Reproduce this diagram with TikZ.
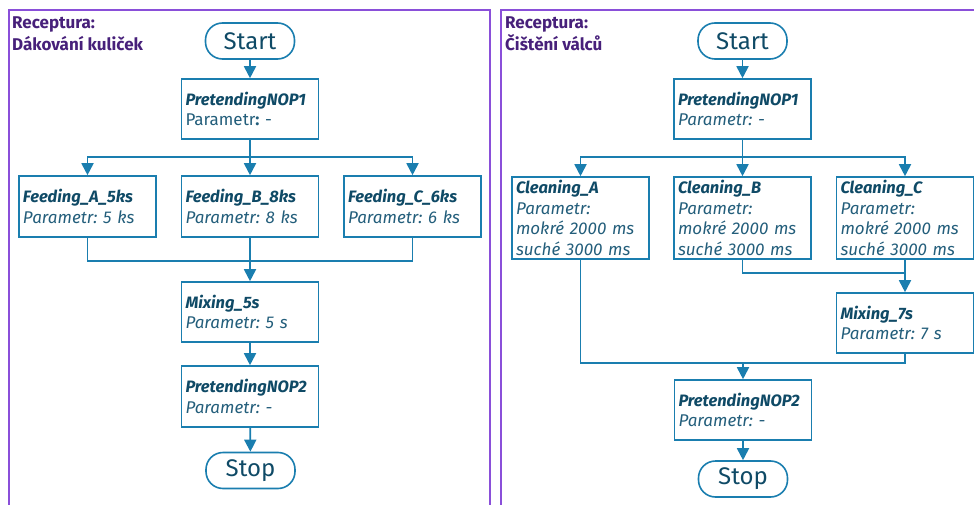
\documentclass[tikz,border=0pt]{standalone}
\usepackage{fontspec}
\setmainfont{Fira Sans}
\frenchspacing
\usetikzlibrary{arrows.meta}
\definecolor{framec}{HTML}{8A4FD9}
\definecolor{titlec}{HTML}{47207A}
\definecolor{linec}{HTML}{1A7EAF}
\definecolor{namec}{HTML}{0F4A66}
\definecolor{parc}{HTML}{235E7B}
\tikzset{
  frame/.style={draw=framec, line width=2pt},
  title/.style={anchor=north west, align=left, text=titlec, inner sep=0pt,
    font=\fontsize{17}{21.5}\selectfont\bfseries},
  stepbox/.style={draw=linec, line width=1.6pt, fill=white, text=parc, align=left,
    inner xsep=4pt, inner ysep=0pt, text width=129pt, minimum height=60pt,
    font=\fontsize{17}{20.5}\selectfont},
  terminal/.style={draw=linec, line width=1.6pt, rounded corners=17pt, text=namec,
    minimum width=89pt, minimum height=36pt, inner sep=0pt,
    font=\fontsize{24}{26}\selectfont},
  link/.style={draw=linec, line width=1.8pt},
  flow/.style={link, -{Triangle[width=12pt,length=12pt]}},
}
\newcommand{\stepname}[1]{{\fontsize{16.5}{20.5}\selectfont\textcolor{namec}{\textbf{\textit{#1}}}}}
\begin{document}
\begin{tikzpicture}[x={(1pt,0)}, y={(0,-1pt)}]
\useasboundingbox (0,0) rectangle (974,505);

% recipe frames
\draw[frame] (8.5,506) -- (8.5,10) -- (490,10) -- (490,506);
\draw[frame] (501,506) -- (501,10) -- (975,10);
\node[title] (t1) at (12,17) {Receptura:\\Dákování kuliček};
\node[title] (t2) at (505,17) {Receptura:\\Čištění válců};

% ---------- recipe 1 ----------
\node[terminal] (s1) at (250,41) {Start};
\node[stepbox] (p1) at (250,109) {\stepname{PretendingNOP1}\\Parametr\textbf{:} -};
\node[stepbox, minimum height=61pt] (fa) at (87.5,206.5) {\stepname{Feeding\_A\_5ks}\\\textit{Parametr: 5 ks}};
\node[stepbox, minimum height=61pt] (fb) at (250,206.5) {\stepname{Feeding\_B\_8ks}\\\textit{Parametr: 8 ks}};
\node[stepbox, minimum height=61pt] (fc) at (412.5,206.5) {\stepname{Feeding\_C\_6ks}\\\textit{Parametr: 6 ks}};
\node[stepbox] (m1) at (250,312) {\stepname{Mixing\_5s}\\\textit{Parametr: 5 s}};
\node[stepbox, minimum height=61pt] (q1) at (250,396.5) {\stepname{PretendingNOP2}\\\textit{Parametr: -}};
\node[terminal] (e1) at (250.5,470.5) {Stop};

\coordinate (b1) at (250,157);
\coordinate (j1) at (250,261);
\draw[flow] (s1) -- (p1);
\draw[link] (p1) -- (b1);
\draw[flow] (b1) -| (fa.north);
\draw[flow] (b1) -- (fb.north);
\draw[flow] (b1) -| (fc.north);
\draw[link] (fa.south) |- (j1);
\draw[link] (fc.south) |- (j1);
\draw[flow] (fb.south) -- (m1.north);
\draw[flow] (m1) -- (q1);
\draw[flow] (q1) -- (e1);

% ---------- recipe 2 ----------
\node[terminal] (s2) at (742.5,41) {Start};
\node[stepbox] (p2) at (742.5,109) {\stepname{PretendingNOP1}\\\textit{Parametr: -}};
\node[stepbox, minimum height=82pt] (ca) at (580.5,218) {\stepname{Cleaning\_A}\\\textit{Parametr:}\\\textit{mokré 2000 ms}\\\textit{suché 3000 ms}};
\node[stepbox, minimum height=82pt] (cb) at (742.5,218) {\stepname{Cleaning\_B}\\\textit{Parametr:}\\\textit{mokré 2000 ms}\\\textit{suché 3000 ms}};
\node[stepbox, minimum height=82pt] (cc) at (905,218) {\stepname{Cleaning\_C}\\\textit{Parametr:}\\\textit{mokré 2000 ms}\\\textit{suché 3000 ms}};
\node[stepbox] (m2) at (905,323) {\stepname{Mixing\_7s}\\\textit{Parametr: 7 s}};
\node[stepbox] (q2) at (743,410) {\stepname{PretendingNOP2}\\\textit{Parametr: -}};
\node[terminal] (e2) at (743,479) {Stop};

\coordinate (b2) at (742.5,157);
\coordinate (j2) at (905,273);
\coordinate (j3) at (743,363);
\draw[flow] (s2) -- (p2);
\draw[link] (p2) -- (b2);
\draw[flow] (b2) -| (ca.north);
\draw[flow] (b2) -- (cb.north);
\draw[flow] (b2) -| (cc.north);
\draw[link] (cb.south) |- (j2);
\draw[flow] (cc.south) -- (m2.north);
\draw[link] (ca.south) |- (j3);
\draw[link] (m2.south) |- (j3);
\draw[flow] (j3) -- (q2.north);
\draw[flow] (q2) -- (e2);
\end{tikzpicture}
\end{document}
